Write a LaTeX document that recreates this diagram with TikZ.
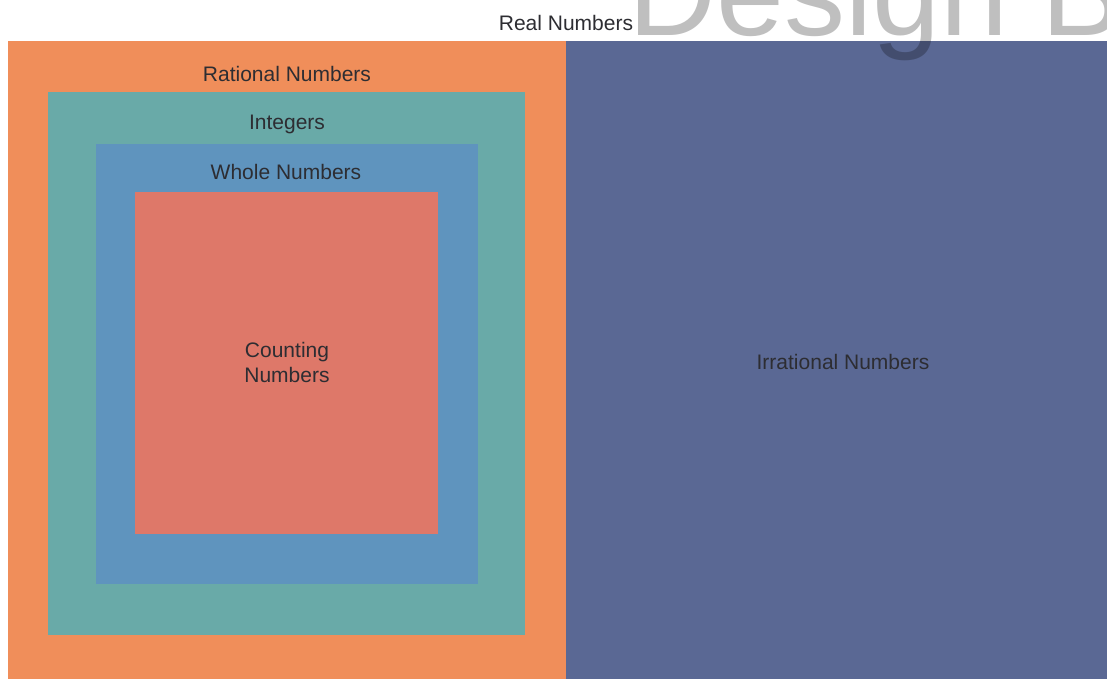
\documentclass[tikz,border=0pt]{standalone}
\usepackage{fontspec}
\setmainfont{Liberation Sans}
\usepackage{tikz}
\usetikzlibrary{positioning}

\definecolor{rationalc}{RGB}{240,142,90}
\definecolor{integerc}{RGB}{105,170,168}
\definecolor{wholec}{RGB}{95,148,190}
\definecolor{countingc}{RGB}{222,120,105}
\definecolor{irrationalc}{RGB}{90,104,148}
\definecolor{labelc}{RGB}{45,45,50}

\begin{document}
\begin{tikzpicture}[x=1pt, y=-1pt,
    setbox/.style={rectangle, inner sep=0pt, outer sep=0pt},
    setlabel/.style={text=labelc, font=\fontsize{21}{25}\selectfont, align=center}]
                \useasboundingbox[fill=white] (0,0) rectangle (1107,679);
                \clip (0,0) rectangle (1107,679);
                % the sets, outer to inner
                \node[setbox, minimum width=558pt, minimum height=638pt, fill=rationalc] (rational) at (287,360) {};
                \node[setbox, minimum width=541pt, minimum height=638pt, fill=irrationalc] (irrational) at (836.5,360) {};
                \node[setbox, minimum width=477pt, minimum height=543pt, fill=integerc] (integer) at (286.5,363.5) {};
                \node[setbox, minimum width=382pt, minimum height=440pt, fill=wholec] (whole) at (287,364) {};
                \node[setbox, minimum width=303pt, minimum height=342pt, fill=countingc] (counting) at (286.5,363) {};
                % labels
                \node[setlabel] (reallbl) at (566,23) {Real Numbers};
                \node[setlabel] (rationallbl) at (287,74) {Rational Numbers};
                \node[setlabel] (integerlbl) at (287,124) {Integers};
                \node[setlabel] (wholelbl) at (286,172) {Whole Numbers};
                \node[setlabel] (countinglbl) at (287,362) {Counting\\Numbers};
                \node[setlabel] (irrationallbl) at (843,362) {Irrational Numbers};
                % watermark
                \node[anchor=base west, inner sep=0pt, text=black, text opacity=0.25,
                      font=\fontsize{122}{122}\selectfont] (mark) at (628,36) {Design B};
            \end{tikzpicture}
\end{document}
